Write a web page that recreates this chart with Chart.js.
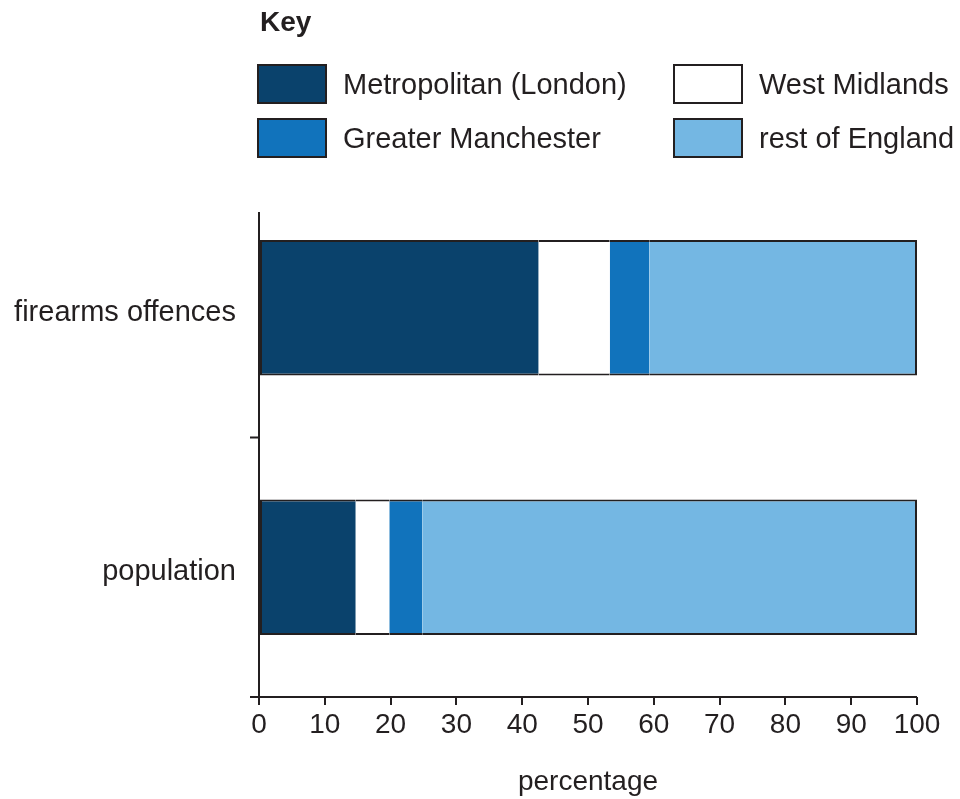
<!DOCTYPE html>
<html>
<head>
<meta charset="utf-8">
<script src="https://cdn.jsdelivr.net/npm/chart.js@4.4.1/dist/chart.umd.min.js"></script>
<style>
  html, body { margin: 0; padding: 0; background: #ffffff; }
  #wrap { position: relative; width: 960px; height: 799px; overflow: hidden; font-family: "Liberation Sans", Arial, sans-serif; color: #231f20; }
  #chart { position: absolute; left: 0; top: 0; }
  .key { position: absolute; left: 260px; top: 7px; font-size: 28px; font-weight: bold; line-height: 30px; }
  .item { position: absolute; height: 40px; display: flex; align-items: center; font-size: 29px; white-space: nowrap; }
  .sw { width: 70px; height: 40px; box-sizing: border-box; border: 2px solid #231f20; margin-right: 16px; flex: none; }
</style>
</head>
<body>
<div id="wrap">
  <canvas id="chart" width="960" height="799"></canvas>
  <div class="key">Key</div>
  <div id="legend"></div>
</div>
<script>
const categories = ["firearms offences", "population"];
const seriesNames = ["Metropolitan (London)", "West Midlands", "Greater Manchester", "rest of England"];
const london = [42.5, 14.7];
const westMidlands = [10.8, 5.1];
const greaterManchester = [6.0, 5.0];
const restOfEngland = [40.7, 75.2];
const xTicks = [0, 10, 20, 30, 40, 50, 60, 70, 80, 90, 100];
const colors = ["#0a426c", "#ffffff", "#1173bc", "#74b7e3"];
const INK = "#231f20";

const seriesValues = [london, westMidlands, greaterManchester, restOfEngland];

// HTML legend (2 columns)
const legendPos = [
  {left: 257, top: 64}, {left: 673, top: 64},
  {left: 257, top: 118}, {left: 673, top: 118}
];
const legendOrder = [0, 1, 2, 3];
const legendEl = document.getElementById('legend');
legendOrder.forEach((si, i) => {
  const d = document.createElement('div');
  d.className = 'item';
  d.style.left = legendPos[i].left + 'px';
  d.style.top = legendPos[i].top + 'px';
  const sw = document.createElement('div');
  sw.className = 'sw';
  sw.style.background = colors[si];
  const t = document.createElement('span');
  t.textContent = seriesNames[si];
  d.appendChild(sw); d.appendChild(t);
  legendEl.appendChild(d);
});

const datasets = seriesValues.map((vals, i) => ({
  label: seriesNames[i],
  data: vals,
  backgroundColor: colors[i],
  borderColor: INK,
  borderSkipped: false,
  borderWidth: {
    top: 2, bottom: 2,
    left: i === 0 ? 2 : 0,
    right: i === seriesValues.length - 1 ? 2 : 0
  },
  barPercentage: 0.522,
  categoryPercentage: 1.0
}));

const axisPlugin = {
  id: 'axisPlugin',
  afterDraw(chart) {
    const ctx = chart.ctx;
    const x = chart.scales.x, y = chart.scales.y;
    const x0 = x.getPixelForValue(0);
    const bottom = chart.chartArea.bottom;
    ctx.save();
    ctx.strokeStyle = INK;
    ctx.lineWidth = 2;
    // vertical axis
    ctx.beginPath();
    ctx.moveTo(x0, 212);
    ctx.lineTo(x0, bottom);
    ctx.stroke();
    // category boundary tick(s)
    const mid = (y.getPixelForValue(0) + y.getPixelForValue(1)) / 2;
    ctx.beginPath();
    ctx.moveTo(x0 - 9, mid);
    ctx.lineTo(x0, mid);
    ctx.moveTo(x0 - 9, bottom);
    ctx.lineTo(x.getPixelForValue(100), bottom);
    ctx.stroke();
    ctx.restore();
  }
};

new Chart(document.getElementById('chart'), {
  type: 'bar',
  data: { labels: categories, datasets },
  options: {
    indexAxis: 'y',
    responsive: false,
    animation: false,
    layout: { padding: { top: 178, right: 43, left: 0, bottom: 0 } },
    plugins: { legend: { display: false }, tooltip: { enabled: false } },
    scales: {
      x: {
        type: 'linear',
        stacked: true,
        min: 0, max: 100,
        afterBuildTicks(scale) { scale.ticks = xTicks.map(v => ({ value: v })); },
        afterFit(scale) { scale.height = 102; },
        border: { display: false },
        grid: { drawOnChartArea: false, drawTicks: true, tickLength: 8, color: INK, lineWidth: 2 },
        ticks: {
          color: INK, padding: 3,
          font: { family: "'Liberation Sans', Arial, sans-serif", size: 28 },
          maxRotation: 0, autoSkip: false
        },
        title: {
          display: true, text: 'percentage', color: INK,
          font: { family: "'Liberation Sans', Arial, sans-serif", size: 28 },
          padding: { top: 20, bottom: 0 }
        }
      },
      y: {
        type: 'category',
        stacked: true,
        afterFit(scale) { scale.width = 259; },
        border: { display: false },
        grid: { display: false },
        ticks: {
          color: INK, padding: 15, labelOffset: 5,
          font: { family: "'Liberation Sans', Arial, sans-serif", size: 29 }
        }
      }
    }
  },
  plugins: [axisPlugin]
});
</script>
</body>
</html>
